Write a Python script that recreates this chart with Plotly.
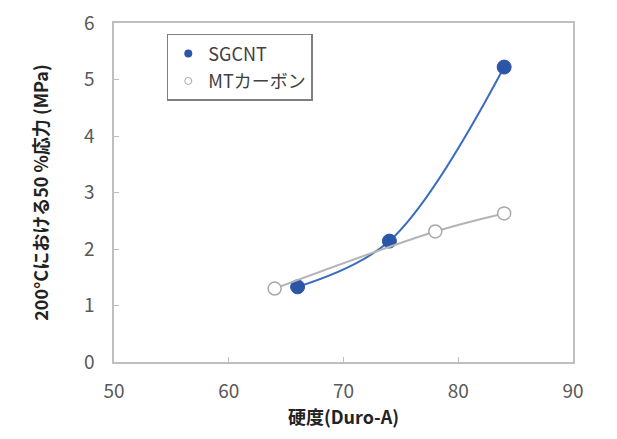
import plotly.graph_objects as go

sg_x = [66, 74, 84]
sg_y = [1.33, 2.14, 5.22]
mt_x = [64, 78, 84]
mt_y = [1.30, 2.31, 2.63]

font = "Noto Sans CJK JP, Lato, sans-serif"
blue_line = "#3A6CC0"
blue_mk = "#2B56A8"
gray_line = "#B4B4B4"
gray_mk = "#A8A8A8"

fig = go.Figure()
fig.add_trace(go.Scatter(
    x=sg_x, y=sg_y, mode="lines+markers", showlegend=False,
    line=dict(color=blue_line, width=2, shape="spline", smoothing=1.0),
    marker=dict(size=14, color=blue_mk, line=dict(color=blue_mk, width=1)),
))
fig.add_trace(go.Scatter(
    x=mt_x, y=mt_y, mode="lines+markers", showlegend=False,
    line=dict(color=gray_line, width=2, shape="spline", smoothing=1.0),
    marker=dict(size=13, color="white", line=dict(color=gray_mk, width=1.5)),
))
# legend entries (marker only, small)
fig.add_trace(go.Scatter(
    x=[None], y=[None], mode="markers", name="SGCNT", legendgroup="a",
    marker=dict(size=8, color=blue_mk),
))
fig.add_trace(go.Scatter(
    x=[None], y=[None], mode="markers", name="MTカーボン", legendgroup="b",
    marker=dict(size=7, color="white", line=dict(color=gray_mk, width=1)),
))

axis_common = dict(
    showline=True, linecolor="#BFBFBF", linewidth=1.5, mirror=True,
    ticks="inside", ticklen=5, tickcolor="#BFBFBF",
    showgrid=False, zeroline=False, automargin=False,
    ticklabeloverflow="allow",
    tickfont=dict(size=19, color="#595959", family=font),
)
fig.update_xaxes(range=[50, 90], dtick=10, ticklabelstandoff=11, **axis_common,
                 title=dict(text="<b>硬度(Duro-A)</b>", font=dict(size=18, color="#222", family=font), standoff=9))
fig.update_yaxes(range=[0, 6], dtick=1, ticklabelstandoff=14, **axis_common,
                 title=dict(text="<b>200°Cにおける50 %応力 (MPa)</b>", font=dict(size=18, color="#222", family=font), standoff=31))

fig.update_layout(
    width=609, height=431,
    margin=dict(l=106, r=44, t=15, b=77),
    plot_bgcolor="white", paper_bgcolor="white",
    font=dict(family=font),
    legend=dict(x=0.115, y=0.968, xanchor="left", yanchor="top",
                bordercolor="#7F7F7F", borderwidth=1.5, bgcolor="white",
                font=dict(size=18, color="#404040", family=font),
                itemwidth=30, tracegroupgap=1),
    showlegend=True,
)
fig.write_html("out.html")
